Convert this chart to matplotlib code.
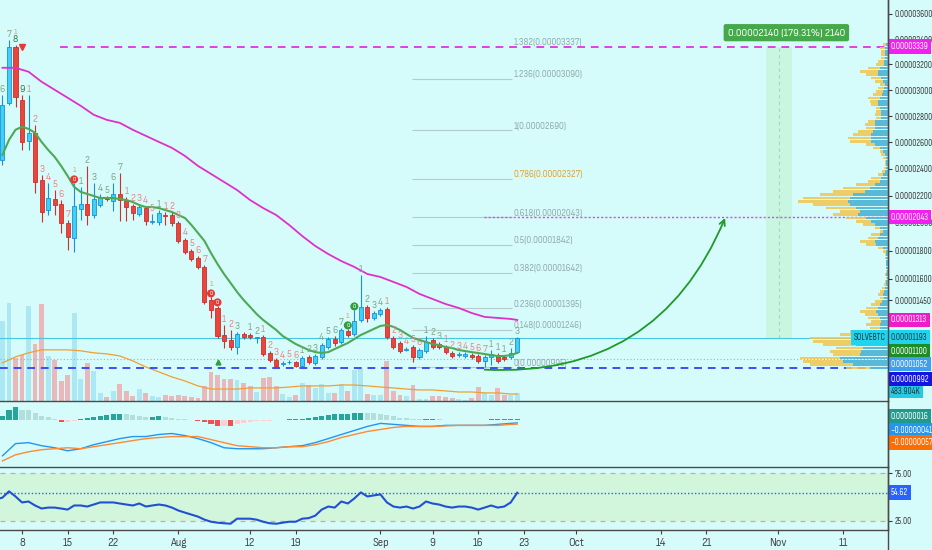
import numpy as np
import pandas as pd
import matplotlib
matplotlib.use("Agg")
import matplotlib.pyplot as plt
import matplotlib.dates as mdates
import matplotlib.transforms as mtransforms
from matplotlib.lines import Line2D

plt.rcParams['font.family'] = ['Sofia Sans Semi Condensed', 'Liberation Sans', 'DejaVu Sans']
NARROW = ['Sofia Sans Condensed', 'Liberation Sans', 'DejaVu Sans']

# COLOURS
BG = '#d6fbfb'
UP, UP_EDGE = '#3fd0f5', '#1b8fd6'
DOWN, DOWN_EDGE = '#e8453c', '#cf2e2e'
VOL_UP, VOL_DOWN = '#ace8f4', '#e8b8ba'
MAGENTA = '#e030c8'
GREEN_EMA = '#4caa55'
TEAL, TEAL_L, RED_H, PINK_L = '#26a69a', '#b2dfdb', '#ef5350', '#ffcdd2'
TD_GRAY, TD_PINK, TD_DARK, TD_ORANGE = '#7fa58a', '#e98585', '#2e7d32', '#f0a030'

# DATA (prices in satoshi = 1e-8 BTC, one candle per day from 2019-07-05)
start = '2019-07-05'
opens = [2467, 2902, 3340, 2925, 2610, 2672, 2317, 2094, 2175, 2139,
         1999, 1890, 2102, 2139, 2058, 2131, 2183, 2161, 2213, 2168,
         2124, 2065, 2109, 2010, 2006, 2058, 2058, 1999, 1876, 1797,
         1746, 1683, 1451, 1396, 1211, 1177, 1130, 1218, 1211, 1191,
         1197, 1090, 1043, 1020, 1027, 1030, 1004, 1063, 1023, 1063,
         1130, 1184, 1164, 1238, 1218, 1313, 1403, 1327, 1354, 1389,
         1191, 1157, 1113, 1130, 1063, 1103, 1177, 1150, 1130, 1090,
         1076, 1070, 1076, 1070, 1036, 1063, 1076, 1063, 1063, 1096]
highs = [2964, 3394, 3355, 2964, 2964, 2733, 2354, 2295, 2242, 2168,
         2021, 2295, 2265, 2422, 2295, 2213, 2198, 2295, 2369, 2190,
         2139, 2139, 2124, 2065, 2094, 2080, 2080, 2014, 1890, 1811,
         1761, 1697, 1472, 1410, 1279, 1245, 1231, 1231, 1225, 1197,
         1211, 1103, 1056, 1036, 1043, 1036, 1070, 1076, 1083, 1157,
         1197, 1204, 1259, 1252, 1382, 1626, 1417, 1375, 1396, 1403,
         1204, 1170, 1130, 1143, 1123, 1204, 1191, 1164, 1143, 1103,
         1096, 1096, 1090, 1083, 1076, 1110, 1090, 1076, 1123, 1197]
lows = [2430, 2886, 2871, 2543, 2543, 2220, 2006, 2058, 2058, 1927,
        1804, 1790, 2021, 1985, 2036, 2116, 2161, 2087, 2014, 2014,
        2021, 2050, 1985, 1992, 1985, 1985, 1978, 1854, 1775, 1725,
        1669, 1423, 1327, 1191, 1123, 1110, 1083, 1184, 1184, 1157,
        1070, 1030, 995, 1004, 1017, 997, 997, 1017, 1010, 1050,
        1117, 1137, 1150, 1197, 1204, 1299, 1299, 1313, 1340, 1184,
        1117, 1090, 1103, 1030, 1050, 1090, 1117, 1117, 1083, 1056,
        1063, 1056, 1050, 1023, 995, 1010, 1023, 1036, 1050, 1090]
closes = [2886, 3340, 2948, 2603, 2672, 2302, 2080, 2183, 2131, 1999,
          1898, 2124, 2139, 2058, 2175, 2183, 2175, 2213, 2168, 2116,
          2072, 2116, 2014, 2014, 2072, 2050, 1999, 1869, 1790, 1739,
          1683, 1437, 1382, 1204, 1170, 1130, 1218, 1197, 1197, 1194,
          1083, 1043, 1004, 1023, 1030, 1004, 1056, 1030, 1070, 1143,
          1184, 1157, 1245, 1211, 1306, 1403, 1327, 1361, 1382, 1197,
          1130, 1103, 1117, 1063, 1110, 1164, 1130, 1130, 1096, 1070,
          1083, 1080, 1063, 1036, 1063, 1083, 1036, 1050, 1090, 1193]
volume_k = [5160, 6320, 2770, 2970, 6130, 3680, 6260, 2900, 2640, 1290,
            1680, 5680, 1420, 2450, 1940, 520, 260, 650, 1100, 650,
            320, 770, 520, 320, 260, 390, 320, 390, 320, 260,
            190, 970, 1870, 1680, 1420, 1420, 1350, 1160, 970, 580,
            1480, 1550, 970, 450, 260, 390, 1160, 1030, 840, 1100,
            520, 520, 1100, 650, 2000, 2060, 450, 390, 390, 2580,
            650, 390, 320, 1030, 130, 130, 320, 320, 260, 190,
            130, 65, 190, 900, 520, 390, 840, 390, 390, 484]

# indicator samples every second day from 2019-07-05, last one on 2019-09-22
vol_ma_k = [2450, 2840, 3100, 3290, 3290, 3290, 3230, 3100, 3030, 2900,
            2580, 2190, 1870, 1550, 1290, 970, 770, 770, 770, 840,
            840, 840, 900, 970, 970, 970, 1030, 1030, 970, 900,
            840, 770, 710, 710, 650, 580, 580, 520, 520, 450, 450]
ema_slow = [3174, 3174, 3143, 3065, 3003, 2941, 2879, 2810, 2771, 2748,
            2695, 2649, 2603, 2558, 2497, 2422, 2362, 2302, 2242, 2168,
            2109, 2058, 1985, 1905, 1833, 1775, 1725, 1683, 1633, 1612,
            1577, 1542, 1493, 1458, 1423, 1396, 1361, 1334, 1327, 1320, 1313]
macd_line = [-473, -313, -300, -340, -367, -407, -380, -327, -287, -247,
             -220, -220, -193, -180, -207, -247, -300, -367, -380, -380,
             -380, -367, -353, -340, -300, -247, -193, -140, -87, -47,
             -60, -73, -87, -87, -73, -73, -73, -73, -60, -47, -41]
signal_line = [-540, -460, -420, -393, -380, -367, -380, -353, -327, -300,
               -273, -247, -233, -220, -220, -220, -260, -300, -340, -353,
               -367, -367, -353, -353, -327, -287, -233, -193, -153, -127,
               -100, -87, -87, -87, -80, -73, -73, -73, -73, -60, -57]

# daily series
ema_fast = [2505, 2618, 2695, 2718, 2702, 2672, 2603, 2543, 2490, 2422,
            2347, 2265, 2228, 2213, 2198, 2183, 2183, 2183, 2175, 2168,
            2153, 2131, 2116, 2116, 2109, 2094, 2080, 2058, 2036, 1985,
            1927, 1869, 1782, 1704, 1633, 1570, 1507, 1451, 1403, 1354,
            1313, 1279, 1245, 1204, 1177, 1150, 1130, 1110, 1096, 1090,
            1096, 1117, 1137, 1157, 1184, 1211, 1231, 1252, 1272, 1279,
            1266, 1245, 1218, 1191, 1177, 1164, 1150, 1143, 1130, 1123,
            1110, 1103, 1096, 1090, 1083, 1076, 1070, 1070, 1076, 1090]
macd_hist = [44, 127, 163, 130, 125, 87, 50, 33, 10, -30,
             -30, -10, 10, 20, 40, 50, 60, 73, 75, 72,
             60, 50, 40, 40, 50, 40, 20, 10, 5, -5,
             -15, -30, -60, -80, -80, -85, -60, -40, -30, -20,
             -15, -10, -5, -3, 5, 10, 15, 25, 35, 45,
             60, 70, 75, 80, 90, 95, 90, 85, 75, 60,
             45, 30, 20, 10, 5, 10, 12, 5, 3, 1,
             1, 2, 2, 2, 3, 5, 5, 8, 12, 16]
rsi = [49.5, 56.1, 50.7, 44.4, 45.4, 41.2, 38.0, 39.0, 39.0, 38.0,
       36.9, 41.2, 41.2, 40.1, 42.2, 44.4, 44.4, 44.4, 43.3, 42.2,
       41.2, 43.3, 40.1, 41.2, 42.2, 41.2, 39.0, 35.9, 33.7, 31.6,
       29.5, 26.3, 24.1, 23.1, 22.5, 22.0, 27.3, 27.3, 27.3, 26.3,
       24.1, 22.5, 22.0, 23.1, 24.1, 24.1, 27.3, 27.9, 30.5, 36.9,
       40.1, 39.0, 45.4, 43.3, 48.6, 55.0, 50.7, 51.8, 52.9, 44.4,
       40.1, 39.0, 40.1, 38.0, 40.1, 45.4, 43.3, 42.2, 40.1, 39.0,
       40.1, 40.1, 39.0, 36.9, 39.0, 41.2, 39.0, 40.1, 44.4, 54.62]

# volume profile rows, from 0.00003355 down to 0.00000991 (length units)
vp_total = [5, 8, 7, 7, 7, 10, 12, 20, 28, 22, 17, 13, 8, 10, 12, 15, 20, 18, 17, 12,
            12, 13, 12, 20, 23, 22, 30, 35, 40, 38, 22, 15, 8, 7, 5, 3, 3, 4, 6, 10,
            17, 20, 32, 45, 55, 68, 85, 90, 75, 62, 48, 55, 42, 32, 25, 13, 8, 17, 20, 28,
            22, 10, 5, 3, 3, 2, 2, 2, 2, 3, 2, 3, 4, 6, 8, 10, 8, 13, 17, 22,
            28, 23, 20, 17, 22, 18, 38, 48, 78, 75, 65, 52, 58, 55, 88, 85, 78, 42]
vp_up = [2, 3, 3, 3, 3, 4, 4, 8, 10, 10, 7, 5, 3, 4, 5, 6, 8, 10, 10, 8,
         7, 7, 7, 13, 13, 13, 15, 17, 17, 17, 13, 8, 5, 3, 2, 2, 2, 2, 3, 5,
         7, 8, 13, 18, 23, 35, 38, 40, 38, 32, 28, 30, 22, 17, 13, 8, 5, 8, 10, 13,
         12, 5, 2, 2, 2, 2, 2, 2, 1, 2, 1, 2, 2, 3, 4, 5, 4, 6, 8, 10,
         12, 10, 8, 7, 8, 8, 20, 22, 33, 35, 32, 25, 27, 28, 48, 45, 35, 18]

fib_ratios = [1.382, 1.236, 1, 0.786, 0.618, 0.5, 0.382, 0.236, 0.148, 0]
fib_prices = [3337, 3090, 2690, 2327, 2043, 1842, 1642, 1395, 1246, 995]

# TD sequential counts: (day offset from 1 July, text, kind)
td_marks = [
    (4, '6', 'g'), (5, '7', 'g'), (6, '8', 'G'), (6, '1', 'o'), (7, '9', 'G'),
    (8, '1', 'p'), (9, '2', 'p'), (10, '3', 'p'), (11, '4', 'p'), (12, '5', 'p'),
    (13, '6', 'p'), (14, '7', 'p'), (15, '0', 'rc'), (15, '1', 'o'),
    (16, '1', 'g'), (17, '2', 'g'), (18, '3', 'g'), (19, '4', 'g'), (20, '5', 'g'),
    (21, '6', 'g'), (22, '7', 'g'), (23, '1', 'p'), (24, '2', 'p'), (25, '3', 'p'),
    (26, '4', 'p'), (27, '5', 'p'), (28, '1', 'g'), (29, '1', 'p'), (30, '2', 'p'),
    (31, '3', 'p'), (32, '4', 'p'), (33, '5', 'p'), (34, '6', 'p'), (35, '7', 'p'),
    (36, '0', 'rc'), (36, '1', 'o'), (37, '0', 'rc'), (38, '1', 'p'), (39, '2', 'p'),
    (40, '3', 'g'), (42, '1', 'g'), (43, '2', 'g'), (44, '1', 'p'), (45, '2', 'p'),
    (46, '3', 'p'), (47, '4', 'p'), (48, '5', 'p'), (49, '6', 'p'), (50, '1', 'g'),
    (51, '2', 'g'), (52, '3', 'g'), (53, '4', 'g'), (54, '5', 'g'), (55, '6', 'g'),
    (56, '7', 'g'), (57, '0', 'gc'), (57, '1', 'o'), (58, '0', 'gc'), (59, '1', 'g'),
    (60, '2', 'g'), (61, '3', 'g'), (62, '4', 'g'), (63, '1', 'p'), (64, '2', 'p'),
    (65, '3', 'p'), (66, '4', 'p'), (67, '5', 'p'), (68, '6', 'p'), (69, '1', 'g'),
    (70, '2', 'g'), (71, '3', 'g'), (72, '1', 'p'), (73, '2', 'p'), (74, '3', 'p'),
    (75, '4', 'p'), (76, '5', 'p'), (77, '6', 'p'), (78, '7', 'p'), (79, '1', 'g'),
    (80, '1', 'g'), (81, '1', 'g'), (82, '2', 'g'), (83, '3', 'g'),
]

tick_dates = ['2019-07-08', '2019-07-15', '2019-07-22', '2019-08-01', '2019-08-12',
              '2019-08-19', '2019-09-01', '2019-09-09', '2019-09-16', '2019-09-23',
              '2019-10-01', '2019-10-14', '2019-10-21', '2019-11-01', '2019-11-11']
tick_labels = ['8', '15', '22', 'Aug', '12', '19', 'Sep', '9', '16', '23',
               'Oct', '14', '21', 'Nov', '11']
price_ticks = [1450, 1600, 1800, 2000, 2200, 2400, 2600, 2800, 3000, 3200, 3400, 3600]

# ---------------------------------------------------------------------------
W, H = 932, 550
day0 = mdates.date2num(pd.Timestamp('2019-07-01'))
cx = mdates.date2num(pd.date_range(start, periods=len(opens), freq='D'))
sx = np.r_[cx[::2], cx[-1]]
XLIM = (day0 + 3.62, day0 + 139.9)

o, h, l, c = map(np.array, (opens, highs, lows, closes))
up = c >= o


def px_rect(left, top, right, bottom):
    return [left / W, 1 - bottom / H, (right - left) / W, (bottom - top) / H]


def fwd(v):
    return np.abs(v) ** 0.85


def inv(v):
    return np.abs(v) ** (1 / 0.85)


def tag(axis, y, text, fc, tc='white', x=1.003, ha='left', size=6.6):
    axis.text(x, y, text, transform=mtransforms.blended_transform_factory(axis.transAxes, axis.transData),
              ha=ha, va='center', fontsize=size, color=tc, clip_on=False, zorder=20, family=NARROW,
              bbox=dict(boxstyle='square,pad=0.3', fc=fc, ec='none'))


def clean(axis):
    for s in ('top', 'left'):
        axis.spines[s].set_visible(False)
    for s in ('right', 'bottom'):
        axis.spines[s].set_color('#4a4a4a')
        axis.spines[s].set_linewidth(1)
    axis.set_xlim(*XLIM)
    axis.tick_params(axis='x', bottom=False, labelbottom=False)


def narrow_right_labels(axis):
    axis.tick_params(axis='y', labelsize=6.5, colors='#3a3a3a', length=3, pad=2)
    for lbl in axis.get_yticklabels():
        lbl.set_family(NARROW)


fig = plt.figure(figsize=(W / 100, H / 100), dpi=100, facecolor=BG)

# volume (behind price)
ax_vol = fig.add_axes(px_rect(0, 0, 888, 401))
ax_vol.set_facecolor(BG)
ax_vol.bar(cx, volume_k, width=0.75, color=np.where(up, VOL_UP, VOL_DOWN), zorder=1)
ax_vol.plot(sx, vol_ma_k, color='#f0a030', lw=0.9, zorder=2)
ax_vol.set_ylim(0, 25800)
ax_vol.set_xlim(*XLIM)
ax_vol.axis('off')

# price
ax = fig.add_axes(px_rect(0, 0, 888, 401))
ax.patch.set_visible(False)
ax.set_yscale('function', functions=(fwd, inv))
ax.set_ylim(778, 3710)
clean(ax)
ax.yaxis.tick_right()
ax.set_yticks(price_ticks)
ax.set_yticklabels([f'{v / 1e8:.8f}' for v in price_ticks])
narrow_right_labels(ax)

# measurement band
ax.fill_between([day0 + 121.2, day0 + 125.2], 1193, 3339, color='#b8f0c0', alpha=0.45, lw=0, zorder=0.5)
ax.vlines(day0 + 123.2, 1193, 3339, colors='#a8d8b0', lw=0.8, linestyles=(0, (3, 3)), zorder=0.6)
ax.text(day0 + 124.3, 3450, '0.00002140 (179.31%) 2140', ha='center', va='center', fontsize=7.4,
        color='white', zorder=20,
        bbox=dict(boxstyle='round,pad=0.4,rounding_size=0.2', fc='#45a84a', ec='none'))

# horizontal levels
ax.hlines(3339, day0 + 12.8, XLIM[1], colors='#e040e0', lw=1.4, linestyles=(0, (4, 3)), zorder=2)
ax.hlines(2043, day0 + 77.9, XLIM[1], colors='#d84ae0', lw=1, linestyles=(0, (1.5, 1.5)), zorder=2)
ax.axhline(992, color='#3b4ff0', lw=1.4, ls=(0, (4, 3)), zorder=2)
ax.axhline(1052, color='#9fb5b5', lw=0.8, ls=(0, (1, 2)), zorder=2)
ax.axhline(1193, color='#45c8e0', lw=0.8, zorder=2)

# fibonacci
for r, p in zip(fib_ratios, fib_prices):
    if r != 1.382:
        ax.hlines(p, day0 + 66.85, day0 + 82.2, colors='#b4cccc', lw=0.8, zorder=1)
    ax.text(day0 + 82.4, p, f'{r:g}({p / 1e8:.8f})', fontsize=6.4, va='bottom', ha='left',
            color='#e0a030' if r == 0.786 else '#90a8a8', zorder=2)

# candles
ax.vlines(cx, l, h, colors=np.where(up, UP_EDGE, DOWN_EDGE), lw=0.8, zorder=3)
ax.bar(cx, np.abs(c - o), bottom=np.minimum(o, c), width=0.62, color=np.where(up, UP, DOWN),
       edgecolor=np.where(up, UP_EDGE, DOWN_EDGE), lw=0.6, zorder=3.5)

# moving averages
ax.plot(sx, ema_slow, color=MAGENTA, lw=1.3, zorder=4)
ax.plot(cx, ema_fast, color=GREEN_EMA, lw=1.5, zorder=4)

# td counts
levels = {}
for d, txt, kind in td_marks:
    i = d - 4
    lev = levels.get(d, 0)
    levels[d] = lev + 1
    off = 1 + lev * 9
    kw = dict(xy=(cx[i], h[i]), xytext=(0, off), textcoords='offset pixels', ha='center',
              va='bottom', zorder=6, annotation_clip=False)
    if kind in ('rc', 'gc'):
        ax.annotate(txt, fontsize=4.4, color='white', fontweight='bold',
                    bbox=dict(boxstyle='circle,pad=0.25', fc='#e53935' if kind == 'rc' else '#2e9e3e',
                              ec='none'), **kw)
    else:
        col = {'g': TD_GRAY, 'p': TD_PINK, 'G': TD_DARK, 'o': TD_ORANGE}[kind]
        ax.annotate(txt, fontsize=5.8 if kind == 'o' else 7, color=col,
                    fontweight='bold' if kind == 'G' else 'normal', **kw)
ax.plot(cx[3], 3340, marker='v', color='#e53935', ms=4, zorder=6)
ax.plot(cx[33], 1030, marker='^', color='#2e9e3e', ms=3.5, zorder=6)

# projection arrow
ax.annotate('', xy=(day0 + 114.9, 2036), xytext=(day0 + 78.0, 980),
            arrowprops=dict(arrowstyle='->', color='#1e9a28', lw=1.3, shrinkA=0, shrinkB=0,
                            connectionstyle='arc3,rad=0.35'), zorder=7)

# volume profile on top
ax_vp = fig.add_axes(px_rect(0, 0, 888, 401), sharey=ax)
ax_vp.patch.set_visible(False)
ax_vp.set_xlim(888, 0)
n = len(vp_total)
fc_rows = np.linspace(fwd(3355), fwd(991), n)
half = (fc_rows[0] - fc_rows[1]) / 2 * 0.82
row_top, row_bot = inv(fc_rows + half), inv(fc_rows - half)
ax_vp.barh(row_bot, vp_total, height=row_top - row_bot, left=0, align='edge', color='#f2c54e',
           alpha=0.85, lw=0)
ax_vp.barh(row_bot, vp_up, height=row_top - row_bot, left=0, align='edge', color='#3fb6ec',
           alpha=0.85, lw=0)
ax_vp.axis('off')

tag(ax_vp, 3339, '0.00003339', '#f21ff0')
tag(ax_vp, 2043, '0.00002043', '#f21ff0')
tag(ax_vp, 1313, '0.00001313', '#f01cc8')
tag(ax_vp, 1193, '0.00001193', '#22d3ee', tc='#1a3a40')
tag(ax_vp, 1193, 'SOLVEBTC', '#22d3ee', tc='#1a3a40', x=0.997, ha='right')
tag(ax_vp, 1100, '0.00001100', '#1e8c28')
tag(ax_vp, 1017, '0.00001052', '#3f9ef0')
tag(ax_vp, 918, '0.00000992', '#1515e0')
tag(ax_vol, 640, '483.904K', '#2ac8e0', tc='#1a3a40')

# MACD
ax_m = fig.add_axes(px_rect(0, 401, 888, 467))
ax_m.patch.set_visible(False)
clean(ax_m)
hist = np.array(macd_hist)
prev = np.r_[hist[0], hist[:-1]]
hcol = np.where(hist >= 0, np.where(hist >= prev, TEAL, TEAL_L), np.where(hist < prev, RED_H, PINK_L))
ax_m.bar(cx, hist, width=0.78, color=hcol, zorder=1)
ax_m.plot(sx, macd_line, color='#2196f3', lw=1.0, zorder=2)
ax_m.plot(sx, signal_line, color='#ff8a30', lw=1.0, zorder=2)
ax_m.set_ylim(-620, 247)
ax_m.set_yticks([])
tag(ax_m, 47, '0.00000016', '#1f9a8c')
tag(ax_m, -140, '\u22120.00000041', '#2196f3')
tag(ax_m, -300, '\u22120.00000057', '#ff6d00')

# RSI
ax_r = fig.add_axes(px_rect(0, 467, 888, 530))
ax_r.patch.set_visible(False)
clean(ax_r)
ax_r.axhspan(25, 75, color='#d2f5d4', alpha=0.8, lw=0, zorder=0)
ax_r.axhline(75, color='#a6bfa6', lw=0.9, ls=(0, (4, 4)))
ax_r.axhline(25, color='#e3a0a0', lw=0.9, ls=(0, (4, 4)))
ax_r.axhline(54.62, color='#2962ff', lw=1.0, ls=(0, (1, 1.5)))
ax_r.plot(np.r_[day0 + 3, cx], np.r_[47.5, rsi], color='#2150d2', lw=1.5, zorder=3)
ax_r.set_ylim(15.4, 81.7)
ax_r.yaxis.tick_right()
ax_r.set_yticks([25, 75])
ax_r.set_yticklabels(['25.00', '75.00'])
narrow_right_labels(ax_r)
tag(ax_r, 54.62, '54.62', '#2962ff')
ax_r.set_xticks(mdates.date2num(pd.to_datetime(tick_dates)))
ax_r.set_xticklabels(tick_labels)
ax_r.tick_params(axis='x', bottom=True, labelbottom=True, labelsize=7.8, colors='#444444',
                 length=3, pad=3)

fig.add_artist(Line2D([888 / W, 888 / W], [0, 1], transform=fig.transFigure, color='#4a4a4a', lw=1))

fig.savefig('out.png', dpi=100, facecolor=BG)
